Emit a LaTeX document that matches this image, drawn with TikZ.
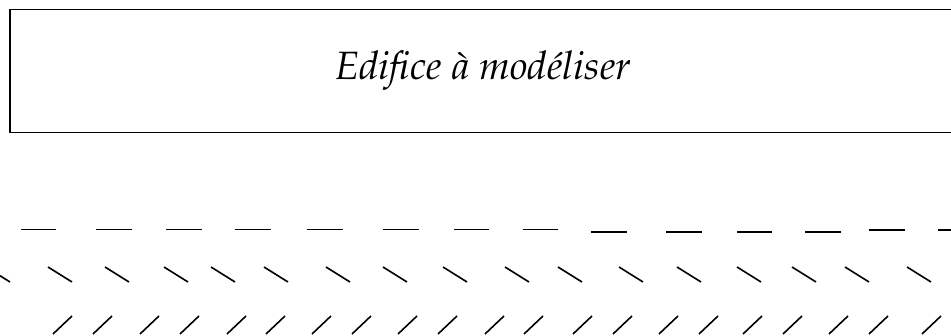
\documentclass[tikz,border=0pt]{standalone}
\usepackage[T1]{fontenc}
\usepackage{mathpazo}
\begin{document}
\begin{tikzpicture}[x=1pt,y=-1pt,
  framebox/.style={draw,line width=1.5pt,rectangle,inner sep=0pt,
    minimum width=946pt,minimum height=123pt,
    font=\fontsize{39.5}{46}\selectfont\itshape},
  stroke/.style={line width=1.6pt}]
\useasboundingbox (0,0) rectangle (951,336);
\clip (0,0) rectangle (951,336);
\node[framebox] (edifice) at (483,71) {\raisebox{2pt}{Edifice \`a mod\'eliser}};
% row 1: horizontal dashes
\foreach \a/\b/\y in {21/56/229.7,96/132/229.7,166/202/229.7,235/271/229.7,
  307/343/229.7,383/419/229.7,454/489/229.7,523/558/229.7,
  591/627/232,666/702/232,737/772/232,805/841/232,
  869/905/230,938/974/230}
  \draw[stroke] (\a,\y) -- (\b,\y);
% row 2: backslashes
\foreach \x in {-14,48,105,164,211,264,326,383,443,505,558,619,677,737,792,845,907}
  \draw[stroke] (\x,267) -- ++(24,15);
% row 3: slashes
\foreach \x in {53,93,140,180,227,266,312,352,398,438,485,524,573,613,659,699,743,783,829,869,922}
  \draw[stroke] (\x,334) -- ++(19,-18);
\end{tikzpicture}
\end{document}
